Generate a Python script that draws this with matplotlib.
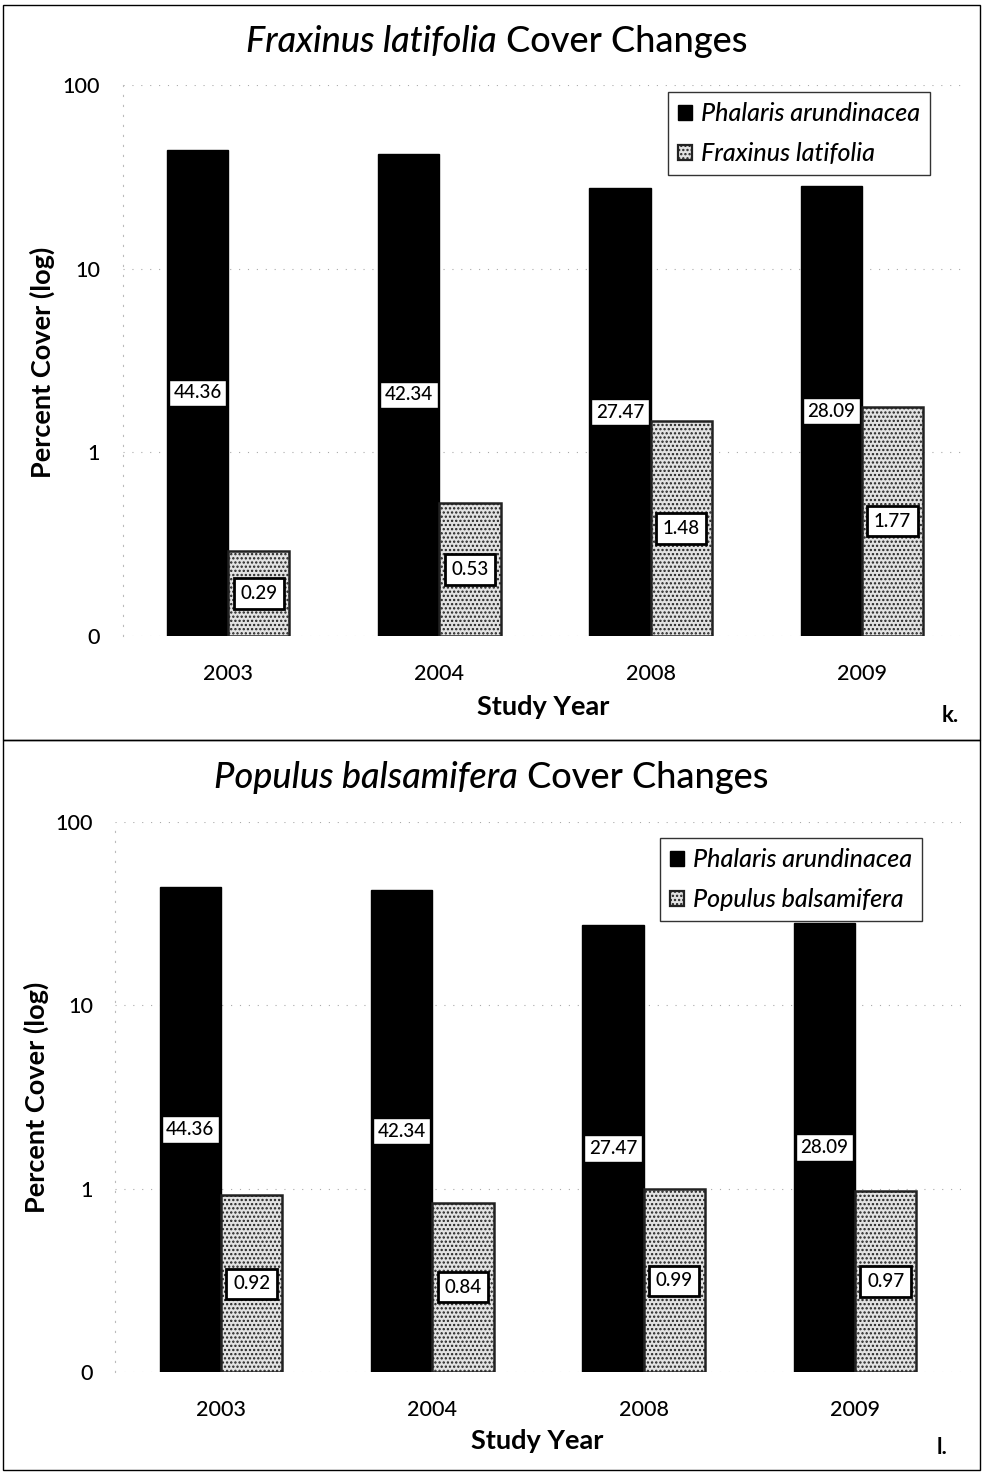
import matplotlib
matplotlib.use("Agg")
import matplotlib.pyplot as plt
import numpy as np
from matplotlib.patches import Rectangle, Patch

plt.rcParams['font.family'] = ['Lato', 'DejaVu Sans']
plt.rcParams['hatch.linewidth'] = 1.1
plt.rcParams['hatch.color'] = '#555555'

years = ['2003', '2004', '2008', '2009']
phalaris = [44.36, 42.34, 27.47, 28.09]
fraxinus = [0.29, 0.53, 1.48, 1.77]
populus = [0.92, 0.84, 0.99, 0.97]

tick_vals = [0.1, 1, 10, 100]
tick_labels = ['0', '1', '10', '100']

W, H = 983, 1473
fig = plt.figure(figsize=(W / 100, H / 100), dpi=100)

# panel frames
for y0, y1 in [(5, 740), (740, 1470)]:
    fig.add_artist(Rectangle((3 / W, 1 - y1 / H), 977 / W, (y1 - y0) / H,
                             transform=fig.transFigure, fill=False,
                             ec='black', lw=1.0))

YMIN = 0.1
GRAY = '#e2e2e2'
MED = 'medium'


def panel(rect, species_name, species_vals, title_x, title_y,
          legend_anchor, letter, letter_pos, ylabel_pos, xlabel_pos):
    ax = fig.add_axes(rect)
    ax.set_yscale('log')
    ax.set_ylim(YMIN, 100)
    ax.set_xlim(-0.5, len(years) - 0.5)
    x = np.arange(len(years))
    bw = 0.29
    ph = np.array(phalaris)
    sp = np.array(species_vals)
    ax.bar(x - bw / 2, ph - YMIN, bottom=YMIN, width=bw, color='black',
           edgecolor='black', lw=1.0, zorder=3)
    ax.bar(x + bw / 2, sp - YMIN, bottom=YMIN, width=bw, color=GRAY,
           edgecolor='#222222', lw=1.8, hatch='....', zorder=3)
    for xi, v in zip(x - bw / 2, ph):
        ax.text(xi, np.sqrt(YMIN * v), f'{v:.2f}', ha='center', va='center',
                fontsize=13.5, fontweight=MED, zorder=5,
                bbox=dict(boxstyle='square,pad=0.25', fc='white', ec='black', lw=1.0))
    for xi, v in zip(x + bw / 2, sp):
        ax.text(xi, np.sqrt(YMIN * v), f'{v:.2f}', ha='center', va='center',
                fontsize=13.5, fontweight=MED, zorder=5,
                bbox=dict(boxstyle='square,pad=0.35', fc='white', ec='black', lw=2.0))
    ax.set_yticks(tick_vals)
    ax.set_yticklabels(tick_labels, fontsize=15.5, fontweight=MED)
    ax.yaxis.set_minor_locator(matplotlib.ticker.NullLocator())
    ax.set_xticks(x)
    ax.set_xticklabels(years, fontsize=15.5, fontweight=MED)
    ax.tick_params(axis='both', length=0)
    ax.tick_params(axis='x', pad=20)
    ax.tick_params(axis='y', pad=16)
    ax.grid(axis='y', which='major', linestyle=(0, (1, 7)), color='#aaaaaa',
            lw=0.8, zorder=0)
    for s in ['top', 'right', 'bottom']:
        ax.spines[s].set_visible(False)
    ax.spines['left'].set_linestyle((0, (1, 8)))
    ax.spines['left'].set_color('#bbbbbb')
    ax.spines['left'].set_linewidth(0.8)

    # title with the species name in italics
    t1 = fig.text(0, 0, species_name, fontsize=26, style='italic', fontweight=MED)
    t2 = fig.text(0, 0, ' Cover Changes', fontsize=26, fontweight=MED)
    fig.canvas.draw()
    r = fig.canvas.get_renderer()
    w1 = t1.get_window_extent(r).width
    w2 = t2.get_window_extent(r).width
    start = title_x - (w1 + w2) / 2
    t1.set_position((start / W, 1 - title_y / H))
    t1.set_va('center')
    t2.set_position(((start + w1) / W, 1 - title_y / H))
    t2.set_va('center')

    fig.text(ylabel_pos[0] / W, 1 - ylabel_pos[1] / H, 'Percent Cover (log)',
             rotation=90, ha='center', va='center', fontsize=19.5, fontweight='bold')
    fig.text(xlabel_pos[0] / W, 1 - xlabel_pos[1] / H, 'Study Year',
             ha='center', va='center', fontsize=19.5, fontweight='bold')
    fig.text(letter_pos[0] / W, 1 - letter_pos[1] / H, letter,
             ha='center', va='center', fontsize=16, fontweight='bold')

    handles = [
        Patch(facecolor='black', edgecolor='black', label='Phalaris arundinacea'),
        Patch(facecolor=GRAY, edgecolor='#222222', hatch='....', lw=1.6,
              label=species_name),
    ]
    leg = fig.legend(handles=handles, loc='upper right',
                     bbox_to_anchor=legend_anchor, frameon=True, fancybox=False,
                     edgecolor='black',
                     prop=dict(style='italic', size=18, weight=MED),
                     handlelength=0.55, handleheight=0.55, handletextpad=0.35,
                     labelspacing=0.68, borderpad=0.4, borderaxespad=0)
    leg.get_frame().set_linewidth(1.0)
    leg.set_zorder(10)
    return ax


panel([122.5 / W, 1 - 636 / H, 845 / W, 551 / H], 'Fraxinus latifolia', fraxinus,
      title_x=497, title_y=42,
      legend_anchor=(930 / W, 1 - 92 / H), letter='k.', letter_pos=(950, 716),
      ylabel_pos=(42, 362), xlabel_pos=(543, 707))

panel([115.3 / W, 1 - 1372 / H, 845.4 / W, 550 / H], 'Populus balsamifera', populus,
      title_x=491, title_y=778,
      legend_anchor=(922 / W, 1 - 838 / H), letter='l.', letter_pos=(942, 1447),
      ylabel_pos=(36, 1097), xlabel_pos=(537, 1441))

fig.savefig('out.png', dpi=100, facecolor='white')
